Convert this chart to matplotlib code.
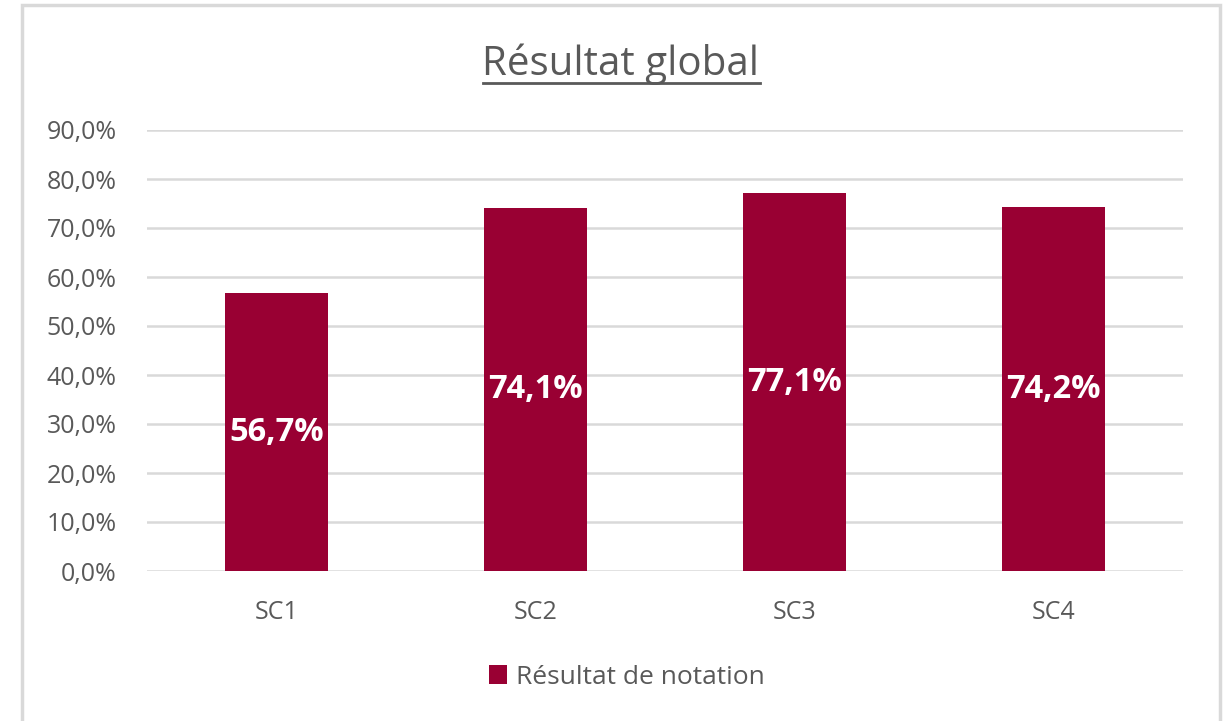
import matplotlib
matplotlib.use("Agg")
import matplotlib.pyplot as plt
from matplotlib.patches import Rectangle
from matplotlib.ticker import FuncFormatter

categories = ["SC1", "SC2", "SC3", "SC4"]
values = [56.7, 74.1, 77.1, 74.2]
yticks = [0, 10, 20, 30, 40, 50, 60, 70, 80, 90]
series_name = "Résultat de notation"
title = "Résultat global"

plt.rcParams['font.family'] = ['Open Sans', 'DejaVu Sans']

W, H = 1223, 721
fig = plt.figure(figsize=(W / 100, H / 100), dpi=100)
bar_color = "#990033"
text_gray = "#595959"

# outer border (no visible bottom edge)
fig.patches.append(Rectangle((21.5 / W, -0.05), (1219.5 - 21.5) / W, 1.05 - 5.5 / H,
                             transform=fig.transFigure, fill=False,
                             edgecolor="#d9d9d9", linewidth=2.5))

x0, x1 = 147, 1183
ytop, ybot = 130, 571
ax = fig.add_axes([x0 / W, 1 - ybot / H, (x1 - x0) / W, (ybot - ytop) / H])

xs = range(len(categories))
bars = ax.bar(xs, values, width=0.4, color=bar_color, label=series_name, zorder=3)
for b, v in zip(bars, values):
    ax.text(b.get_x() + b.get_width() / 2, v / 2, f"{v:.1f}%".replace(".", ","),
            ha="center", va="center", color="white", fontsize=23.5,
            fontweight="bold", zorder=4)

ax.set_xlim(-0.5, len(categories) - 0.5)
ax.set_ylim(0, 90)
ax.set_yticks(yticks)
ax.yaxis.set_major_formatter(FuncFormatter(lambda v, p: f"{v:.1f}%".replace(".", ",")))
ax.set_xticks(list(xs))
ax.set_xticklabels(categories)
ax.tick_params(axis="both", length=0, colors=text_gray, labelsize=18)
ax.tick_params(axis="y", pad=22)
ax.tick_params(axis="x", pad=21)
ax.grid(axis="y", color="#d9d9d9", linewidth=1.8, zorder=0)
for s in ax.spines.values():
    s.set_visible(False)

# title with underline
t = fig.text(621 / W, 1 - 64 / H, title, ha="center", va="center",
             fontsize=29, color=text_gray)
fig.canvas.draw()
bb = t.get_window_extent()
fig.add_artist(plt.Line2D([bb.x0 / W, bb.x1 / W], [1 - 83 / H, 1 - 83 / H],
                          transform=fig.transFigure, color=text_gray, linewidth=2))

leg = fig.legend(handles=[bars], labels=[series_name], loc="center",
                 bbox_to_anchor=(627 / W, 1 - 677 / H), frameon=False,
                 fontsize=19, handlelength=0.7, handleheight=0.7,
                 handletextpad=0.35, labelcolor=text_gray)

fig.savefig("out.png", dpi=100, facecolor="white")
